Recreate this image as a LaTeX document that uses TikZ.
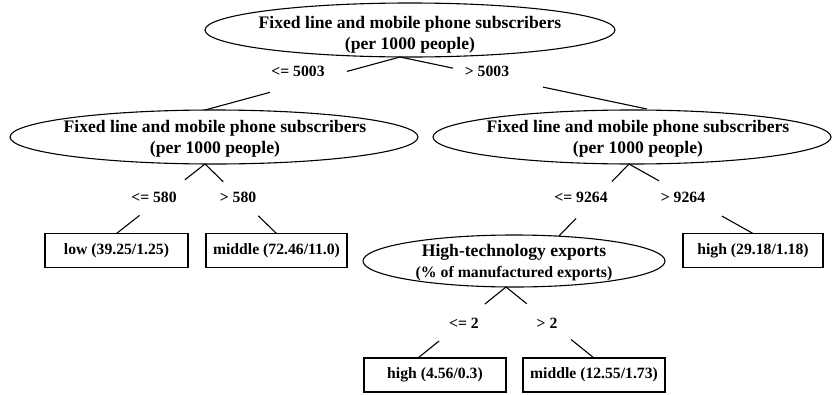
\documentclass[tikz,border=0pt]{standalone}
\usepackage{fontspec}
\setmainfont{Liberation Serif}
\usetikzlibrary{calc,shapes.geometric}
\begin{document}
\begin{tikzpicture}[x=1pt,y=-1pt,
  split/.style={draw,ellipse,line width=1.1pt,inner sep=0pt,outer sep=0pt},
  leaf/.style={draw,rectangle,line width=1.1pt,minimum height=34pt,inner sep=0pt,outer sep=0pt,font=\bfseries\fontsize{15.7}{19}\selectfont},
  title/.style={align=center,inner sep=0pt,font=\bfseries\fontsize{17.6}{21}\selectfont},
  cond/.style={inner sep=0pt,font=\bfseries\fontsize{15.7}{19}\selectfont},
  edge/.style={line width=1.1pt}]
\useasboundingbox (0,0) rectangle (833,394);

% split nodes
\node[split,minimum width=410pt,minimum height=54pt] (R) at (410,30) {};
\node[title] (Rt) at (410,34.5) {Fixed line and mobile phone subscribers\\(per 1000 people)};
\node[split,minimum width=408pt,minimum height=54pt] (L1) at (214,137) {};
\node[title] (L1t) at (215,139) {Fixed line and mobile phone subscribers\\(per 1000 people)};
\node[split,minimum width=398pt,minimum height=54pt] (R1) at (632,137) {};
\node[title] (R1t) at (638,139) {Fixed line and mobile phone subscribers\\(per 1000 people)};
\node[split,minimum width=302pt,minimum height=52pt] (HT) at (514,261) {};
\node[title] (HTt) at (514,262.5) {High-technology exports\\{\fontsize{15.8}{19}\selectfont (\% of manufactured exports)}};

% leaves
\node[leaf,minimum width=143pt] (low) at (116.5,250.5) {low (39.25/1.25)};
\node[leaf,minimum width=141pt] (mid1) at (276.5,250.5) {middle (72.46/11.0)};
\node[leaf,minimum width=140pt] (high1) at (753,250.5) {high (29.18/1.18)};
\node[leaf,minimum width=142pt] (high2) at (435,375) {high (4.56/0.3)};
\node[leaf,minimum width=142pt] (mid2) at (594,375) {middle (12.55/1.73)};

% conditions
\node[cond] (c1) at (298,71.5) {<= 5003};
\node[cond] (c2) at (487,71.5) {> 5003};
\node[cond] (c3) at (154,197.5) {<= 580};
\node[cond] (c4) at (238,197.5) {> 580};
\node[cond] (c5) at (581,197.5) {<= 9264};
\node[cond] (c6) at (683,197.5) {> 9264};
\node[cond] (c7) at (464,323) {<= 2};
\node[cond] (c8) at (547,323) {> 2};

% edge end points
\coordinate (R-b) at ($(R.south)+(-10,0)$);
\coordinate (L1-t) at ($(L1.north)+(-9,0)$);
\coordinate (L1-b) at ($(L1.south)+(-9,0)$);
\coordinate (R1-t) at ($(R1.north)+(15,-1)$);
\coordinate (R1-b) at ($(R1.south)+(-3,0)$);
\coordinate (HT-t) at ($(HT.north)+(45,1)$);
\coordinate (HT-b) at ($(HT.south)+(-8,0)$);
\coordinate (high2-t) at ($(high2.north)+(-17,0)$);

% edges (broken where the condition is written)
\draw[edge] (R-b) -- ($(R-b)!0.272!(L1-t)$) ($(R-b)!0.667!(L1-t)$) -- (L1-t);
\draw[edge] (R-b) -- ($(R-b)!0.215!(R1-t)$) ($(R-b)!0.579!(R1-t)$) -- (R1-t);
\draw[edge] (L1-b) -- ($(L1-b)!0.227!(low.north)$) ($(L1-b)!0.739!(low.north)$) -- (low.north);
\draw[edge] (L1-b) -- ($(L1-b)!0.254!(mid1.north)$) ($(L1-b)!0.746!(mid1.north)$) -- (mid1.north);
\draw[edge] (R1-b) -- ($(R1-b)!0.243!(HT-t)$) ($(R1-b)!0.757!(HT-t)$) -- (HT-t);
\draw[edge] (R1-b) -- ($(R1-b)!0.242!(high1.north)$) ($(R1-b)!0.75!(high1.north)$) -- (high1.north);
\draw[edge] (HT-b) -- ($(HT-b)!0.239!(high2-t)$) ($(HT-b)!0.76!(high2-t)$) -- (high2-t);
\draw[edge] (HT-b) -- ($(HT-b)!0.236!(mid2.north)$) ($(HT-b)!0.74!(mid2.north)$) -- (mid2.north);
\end{tikzpicture}
\end{document}
